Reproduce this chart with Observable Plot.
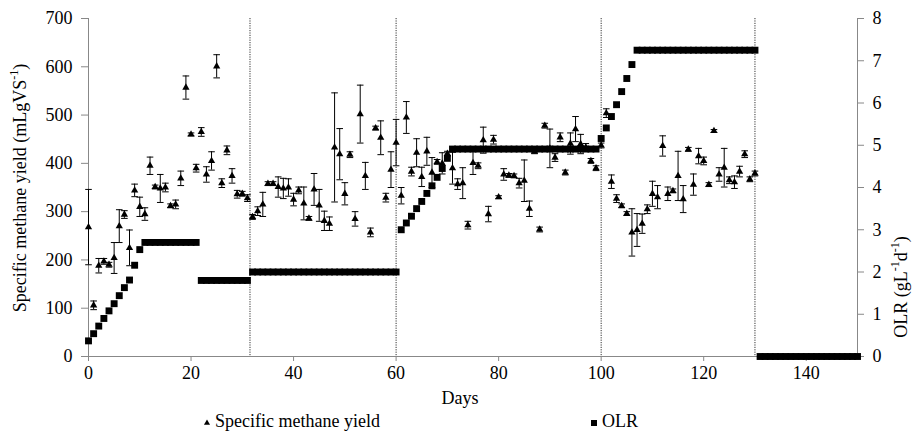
<!DOCTYPE html>
<html><head><meta charset="utf-8">
<script src="https://cdn.jsdelivr.net/npm/d3@7"></script>
<script src="https://cdn.jsdelivr.net/npm/@observablehq/plot@0.6"></script>
<style>
body{margin:0;background:#fff;}
</style></head><body><div id="chart"></div>
<script>
// Specific methane yield (mL gVS-1), one value per day, days 0..130
const smy = [268,106,188,197,190,204,270,294,225,344,
 310,295,395,351,348,350,312,315,369,557,
 460,390,465,377,405,601,359,427,374,336,
 337,328,289,301,315,358,358,351,348,350,
 325,344,317,286,346,313,281,275,433,419,
 337,418,285,502,374,257,473,453,329,387,
 443,333,495,383,422,372,425,381,403,400,
 420,390,357,359,272,401,395,448,295,449,
 330,377,375,374,359,364,306,424,263,478,
 431,412,454,381,441,471,440,433,405,390,
 437,504,362,327,312,296,257,262,275,305,
 337,330,436,337,343,374,326,429,356,415,
 405,356,467,377,391,365,361,383,419,367,
 379];
// error (± standard deviation)
const smyErr = [78,9,15,6,5,32,34,8,37,13,
 20,13,18,4,29,9,4,9,15,24,
 3,8,9,16,19,24,9,9,15,8,
 5,7,5,9,25,4,4,21,21,18,
 13,7,34,4,33,33,20,14,113,53,
 23,6,15,60,28,9,4,35,9,37,
 48,17,33,9,29,20,29,31,5,22,
 5,33,11,32,8,24,6,27,16,9,
 3,12,4,4,10,43,16,4,5,5,
 40,8,9,5,22,26,20,8,5,5,
 5,9,14,8,4,4,49,34,20,9,
 26,24,21,14,4,51,28,4,22,16,
 8,4,3,14,40,7,13,11,7,5,
 5];
// OLR (g L-1 d-1), days 0..150
const olr = [0.37,0.54,0.72,0.90,1.08,1.25,1.44,1.63,1.81,2.16,2.53,
 2.7,2.7,2.7,2.7,2.7,2.7,2.7,2.7,2.7,2.7,2.7,
 1.8,1.8,1.8,1.8,1.8,1.8,1.8,1.8,1.8,1.8,
 2.0,2.0,2.0,2.0,2.0,2.0,2.0,2.0,2.0,2.0,
 2.0,2.0,2.0,2.0,2.0,2.0,2.0,2.0,2.0,2.0,
 2.0,2.0,2.0,2.0,2.0,2.0,2.0,2.0,2.0,
 3.0,3.16,3.32,3.5,3.67,3.86,4.04,4.24,4.45,4.69,
 4.91,4.91,4.91,4.91,4.91,4.91,4.91,4.91,4.91,4.91,
 4.91,4.91,4.91,4.91,4.91,4.91,4.91,4.91,4.91,4.91,
 4.91,4.91,4.91,4.91,4.91,4.91,4.91,4.91,4.91,
 5.16,5.41,5.68,5.96,6.27,6.58,6.91,
 7.25,7.25,7.25,7.25,7.25,7.25,7.25,7.25,7.25,7.25,
 7.25,7.25,7.25,7.25,7.25,7.25,7.25,7.25,7.25,7.25,
 7.25,7.25,7.25,7.25,
 0,0,0,0,0,0,0,0,0,0,
 0,0,0,0,0,0,0,0,0,0];
const dividers = [31.5, 60, 100, 130];
const xTicks = [0,20,40,60,80,100,120,140];
const yTicks = [0,100,200,300,400,500,600,700];
const olrTicks = [0,1,2,3,4,5,6,7,8];
const OLR_SCALE = 700 / 8;

const smyData = smy.map((v, i) => ({day: i, v, e: smyErr[i]}));
const olrData = olr.map((v, i) => ({day: i, v}));

const capSymbol = {draw(ctx) { ctx.moveTo(-3.3, 0); ctx.lineTo(3.3, 0); }};
const font = "Liberation Serif";

const chart = Plot.plot({
  width: 913, height: 436,
  marginLeft: 88, marginRight: 56, marginTop: 18, marginBottom: 80,
  style: {fontSize: "18px", background: "#fff", color: "#000", overflow: "visible"},
  x: {domain: [0, 150]},
  y: {domain: [0, 700]},
  marks: [
    Plot.ruleX(dividers, {stroke: "#333", strokeDasharray: "1.2,1.2", strokeWidth: 1}),
    Plot.ruleY([0], {stroke: "#888"}),
    Plot.ruleX([0], {stroke: "#888"}),
    Plot.ruleX([150], {stroke: "#888"}),
    Plot.axisX({ticks: xTicks, tickSize: 5, tickPadding: 5, stroke: "#888", label: null, fontFamily: font, fontSize: 18, fontVariant: "normal"}),
    Plot.axisY({ticks: yTicks, tickSize: 7, tickPadding: 9, stroke: "#888", label: null, fontFamily: font, fontSize: 18, fontVariant: "normal"}),
    Plot.axisY(olrTicks.map(t => t * OLR_SCALE), {anchor: "right", tickFormat: d => Math.round(d / OLR_SCALE), tickSize: 6, tickPadding: 9, stroke: "#888", label: null, fontFamily: font, fontSize: 18, fontVariant: "normal"}),
    Plot.dot(olrData, {x: "day", y: d => d.v * OLR_SCALE, symbol: "square", r: 3.9, fill: "#000"}),
    Plot.ruleX(smyData, {x: "day", y1: d => d.v - d.e, y2: d => d.v + d.e, stroke: "#000", strokeWidth: 1}),
    Plot.dot(smyData, {x: "day", y: d => d.v - d.e, symbol: capSymbol, fill: "none", stroke: "#000", strokeWidth: 1}),
    Plot.dot(smyData, {x: "day", y: d => d.v + d.e, symbol: capSymbol, fill: "none", stroke: "#000", strokeWidth: 1}),
    Plot.dot(smyData, {x: "day", y: "v", symbol: "triangle", r: 2.7, fill: "#000"})
  ]
});

const svg = d3.select(chart);
svg.attr("font-family", font);
// left axis title
const lt = svg.append("text").attr("transform", "translate(22,188) rotate(-90)")
  .attr("text-anchor", "middle").attr("dominant-baseline", "middle")
  .attr("font-size", 18).attr("fill", "#000");
lt.append("tspan").text("Specific methane yield (mLgVS");
lt.append("tspan").attr("baseline-shift", "super").attr("font-size", 12).text("-1");
lt.append("tspan").text(")");
// right axis title
const rt = svg.append("text").attr("transform", "translate(903,287) rotate(-90)")
  .attr("text-anchor", "middle").attr("dominant-baseline", "middle")
  .attr("font-size", 18).attr("fill", "#000");
rt.append("tspan").text("OLR (gL");
rt.append("tspan").attr("baseline-shift", "super").attr("font-size", 12).text("-1");
rt.append("tspan").text("d");
rt.append("tspan").attr("baseline-shift", "super").attr("font-size", 12).text("-1");
rt.append("tspan").text(")");
// x axis title
svg.append("text").attr("x", 460).attr("y", 400).attr("text-anchor", "middle")
  .attr("dominant-baseline", "middle").attr("font-size", 18)
  .attr("fill", "#000").text("Days");
// legend
const lg = svg.append("g").attr("font-size", 18).attr("fill", "#000").attr("text-anchor", "start");
lg.append("path").attr("transform", "translate(207,423)").attr("d", d3.symbol(d3.symbolTriangle, 16)()).attr("fill", "#000");
lg.append("text").attr("x", 215).attr("y", 423).attr("text-anchor", "start").attr("dominant-baseline", "middle").text("Specific methane yield");
lg.append("path").attr("transform", "translate(594,423)").attr("d", d3.symbol(d3.symbolSquare, 36)()).attr("fill", "#000");
lg.append("text").attr("x", 602).attr("y", 423).attr("text-anchor", "start").attr("dominant-baseline", "middle").text("OLR");
svg.selectAll("text, tspan").style("font-family", "'Liberation Serif', serif");

document.getElementById("chart").appendChild(chart);
</script></body></html>
